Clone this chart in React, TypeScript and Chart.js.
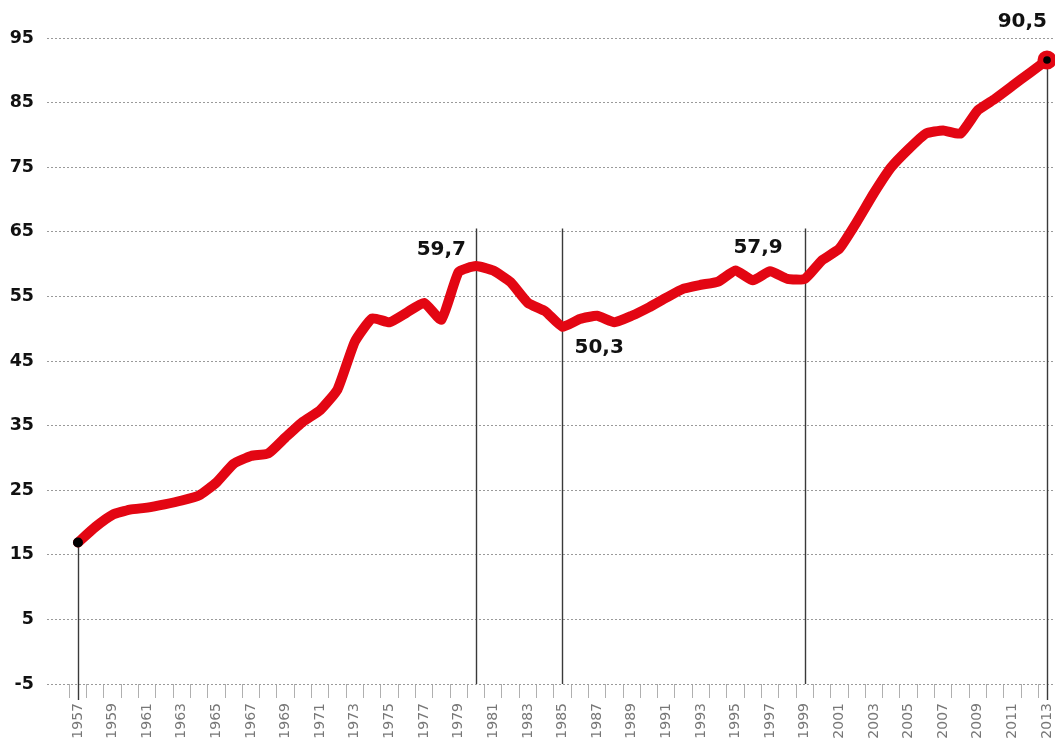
import React, { useEffect, useRef } from 'react';
import { Chart, registerables } from 'chart.js';

Chart.register(...registerables);

// ---- data ----
const YEARS: number[] = [];
for (let yr = 1957; yr <= 2013; yr++) YEARS.push(yr);

const VALUES: number[] = [
  16.9, 19.3, 21.2, 22.0, 22.3, 22.8, 23.4, 24.2, 26.2, 29.1, // 1957-1966
  30.3, 30.7, 33.2, 35.6, 37.4, 40.6, 48.0, 51.6, 51.0, 52.5, // 1967-1976
  54.0, 51.4, 58.8, 59.7, 59.0, 57.2, 54.0, 52.7, 50.3, 51.5, // 1977-1986
  52.0, 51.0, 52.0, 53.3, 54.8, 56.2, 56.8, 57.3, 59.0, 57.5, // 1987-1996
  58.9, 57.7, 57.7, 60.6, 62.4, 66.5, 71.0, 75.0, 77.8, 80.2, // 1997-2006
  80.7, 80.2, 83.8, 85.6, 87.6, 89.6, 91.6,                   // 2007-2013
];

const Y_TICKS = [-5, 5, 15, 25, 35, 45, 55, 65, 75, 85, 95];
const GUIDE_YEARS = [1980, 1985, 1999];
const ANNOTATION_YEARS = [1980, 1985, 1999, 2013];
const ANNOTATION_TEXTS = ['59,7', '50,3', '57,9', '90,5'];

// ---- styles ----
const RED = '#e30613';
const GUIDE_TOP_VALUE = 65.5;
const LABEL_FONT = 'bold 20px "DejaVu Sans"';
// placement per annotation (style only)
const LABEL_PLACEMENT = [
  { align: 'right', dx: -10, ref: 'guide', dy: 26 },
  { align: 'left', dx: 12, ref: 'point', dy: 26 },
  { align: 'right', dx: -22, ref: 'guide', dy: 24 },
  { align: 'right', dx: 0, ref: 'point', dy: -33 },
] as const;

const guidesPlugin = {
  id: 'guides',
  beforeDatasetsDraw(chart: any) {
    const { ctx, chartArea } = chart;
    const x = chart.scales.x;
    const y = chart.scales.y;
    ctx.save();
    ctx.strokeStyle = '#3a3a3a';
    ctx.lineWidth = 1.4;
    GUIDE_YEARS.forEach((yr) => {
      const px = Math.round(x.getPixelForValue(yr)) + 0.5;
      ctx.beginPath();
      ctx.moveTo(px, y.getPixelForValue(GUIDE_TOP_VALUE));
      ctx.lineTo(px, chartArea.bottom);
      ctx.stroke();
    });
    [0, YEARS.length - 1].forEach((i) => {
      const px = Math.round(x.getPixelForValue(YEARS[i])) + 0.5;
      ctx.beginPath();
      ctx.moveTo(px, y.getPixelForValue(VALUES[i]));
      ctx.lineTo(px, chartArea.bottom + 16);
      ctx.stroke();
    });
    ctx.restore();
  },
  afterDatasetsDraw(chart: any) {
    const { ctx } = chart;
    const x = chart.scales.x;
    const y = chart.scales.y;
    ctx.save();
    // inner dot on the last point
    const li = YEARS.length - 1;
    ctx.fillStyle = '#000';
    ctx.beginPath();
    ctx.arc(x.getPixelForValue(YEARS[li]), y.getPixelForValue(VALUES[li]), 3.8, 0, Math.PI * 2);
    ctx.fill();
    // value labels
    ctx.font = LABEL_FONT;
    ctx.fillStyle = '#111';
    ctx.textBaseline = 'alphabetic';
    ANNOTATION_YEARS.forEach((yr, k) => {
      const p = LABEL_PLACEMENT[k];
      const idx = YEARS.indexOf(yr);
      const px = x.getPixelForValue(yr);
      const refY = p.ref === 'guide' ? y.getPixelForValue(GUIDE_TOP_VALUE) : y.getPixelForValue(VALUES[idx]);
      ctx.textAlign = p.align;
      ctx.fillText(ANNOTATION_TEXTS[k], px + p.dx, refY + p.dy);
    });
    ctx.restore();
  },
};

export default function App() {
  const canvasRef = useRef<HTMLCanvasElement | null>(null);

  useEffect(() => {
    if (!canvasRef.current) return;
    const last = YEARS.length - 1;
    const chart = new Chart(canvasRef.current, {
      type: 'line',
      data: {
        datasets: [
          {
            data: YEARS.map((yr, i) => ({ x: yr, y: VALUES[i] })),
            borderColor: RED,
            borderWidth: 10,
            borderJoinStyle: 'round',
            borderCapStyle: 'round',
            tension: 0.15,
            fill: false,
            clip: false as any,
            pointRadius: (c: any) => (c.dataIndex === 0 ? 5 : c.dataIndex === last ? 9.5 : 0),
            pointHoverRadius: 0,
            pointBorderWidth: 0,
            pointBackgroundColor: (c: any) => (c.dataIndex === 0 ? '#000' : RED),
            pointBorderColor: 'rgba(0,0,0,0)',
          },
        ],
      },
      options: {
        responsive: false,
        animation: false,
        events: [],
        layout: { autoPadding: false, padding: { top: 38, left: 0, right: 0, bottom: 0 } },
        plugins: { legend: { display: false }, tooltip: { enabled: false }, title: { display: false } },
        scales: {
          x: {
            type: 'linear',
            min: 1955.209,
            max: 2013.462,
            afterBuildTicks: (scale: any) => {
              scale.ticks = YEARS.map((v) => ({ value: v }));
            },
            afterFit: (scale: any) => {
              scale.height = 56;
              scale.paddingLeft = 0;
              scale.paddingRight = 0;
            },
            grid: {
              display: true,
              drawOnChartArea: false,
              drawTicks: true,
              offset: true,
              tickLength: 14,
              tickColor: '#b0b0b0',
              tickWidth: 1,
            },
            border: { display: false },
            ticks: {
              autoSkip: false,
              maxRotation: 90,
              minRotation: 90,
              padding: 5,
              color: '#777',
              font: { family: 'DejaVu Sans', size: 14 },
              callback: (v: any) => (Number(v) % 2 === 1 ? String(v) : ''),
            },
          },
          y: {
            type: 'linear',
            min: -5,
            max: 95,
            afterBuildTicks: (scale: any) => {
              scale.ticks = Y_TICKS.map((v) => ({ value: v }));
            },
            afterFit: (scale: any) => {
              scale.width = 47;
              scale.paddingTop = 0;
              scale.paddingBottom = 0;
            },
            grid: { color: '#9a9a9a', lineWidth: 1, drawTicks: false },
            border: { display: false, dash: [2, 2] },
            ticks: {
              padding: 13,
              color: '#111',
              font: { family: 'DejaVu Sans', size: 17.5, weight: 'bold' },
              callback: (v: any) => String(v),
            },
          },
        },
      },
      plugins: [guidesPlugin],
    } as any);
    return () => chart.destroy();
  }, []);

  return (
    <div style={{ position: 'absolute', left: 0, top: 0, width: 1055, height: 740, background: '#fff' }}>
      <canvas ref={canvasRef} width={1055} height={740} style={{ display: 'block' }} />
    </div>
  );
}
